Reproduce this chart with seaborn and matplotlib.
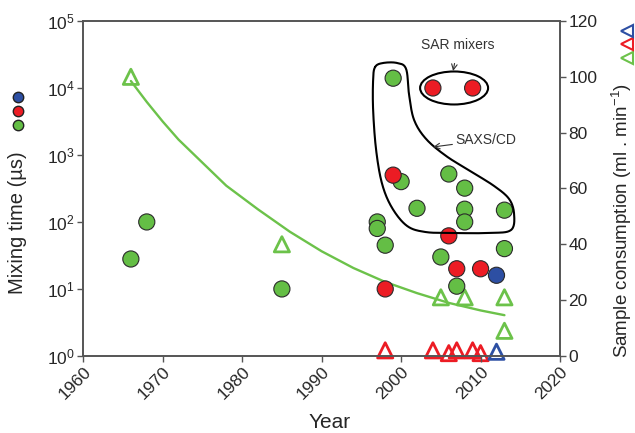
import numpy as np
import pandas as pd
import seaborn as sns
import matplotlib.pyplot as plt
from matplotlib.patches import Ellipse
from matplotlib.lines import Line2D
from matplotlib.ticker import NullLocator

# mixing time (us), circles
green_years = [1966, 1968, 1985, 1997, 1997, 1998, 1999, 2000, 2002, 2005, 2006, 2007, 2008, 2008, 2008, 2013, 2013]
green_time = [28, 100, 10, 100, 80, 45, 14000, 400, 160, 30, 520, 11, 320, 155, 100, 150, 40]
red_years = [1998, 1999, 2004, 2006, 2007, 2009, 2010]
red_time = [10, 500, 10000, 62, 20, 10000, 20]
blue_years = [2012]
blue_time = [16]

# sample consumption (ml/min), triangles
green_tri_years = [1966, 1985, 2005, 2008, 2013, 2013]
green_tri_cons = [100, 40, 21, 21, 21, 9]
red_tri_years = [1998, 2004, 2006, 2007, 2009, 2010]
red_tri_cons = [2, 2, 1, 2, 2, 1]
blue_tri_years = [2012]
blue_tri_cons = [1.5]

# trend curve
fit_years = [1966, 1968, 1970, 1972, 1974, 1976, 1978, 1982, 1986, 1990, 1994, 1998, 2002, 2006, 2010, 2013]
fit_cons = [98.5, 91, 84, 77.5, 72, 66.5, 61, 52.5, 44.5, 37.5, 31.5, 26.5, 22.5, 19, 16.3, 14.6]

GREEN = "#64BE45"
GREEN_LINE = "#6CC24A"
RED = "#EC1C24"
BLUE = "#2D4FA3"
palette = {"green": GREEN, "red": RED, "blue": BLUE}
tri_palette = {"green": GREEN_LINE, "red": RED, "blue": BLUE}

circles = pd.DataFrame({
    "year": green_years + red_years + blue_years,
    "time": green_time + red_time + blue_time,
    "group": ["green"] * len(green_years) + ["red"] * len(red_years) + ["blue"] * len(blue_years),
})
tris = pd.DataFrame({
    "year": green_tri_years + red_tri_years + blue_tri_years,
    "cons": green_tri_cons + red_tri_cons + blue_tri_cons,
    "group": ["green"] * len(green_tri_years) + ["red"] * len(red_tri_years) + ["blue"] * len(blue_tri_years),
})

sns.set_theme(style="ticks")
plt.rcParams["font.family"] = ["Liberation Sans", "DejaVu Sans"]
plt.rcParams["mathtext.fontset"] = "custom"
plt.rcParams["mathtext.rm"] = "Liberation Sans"
plt.rcParams["mathtext.it"] = "Liberation Sans:italic"

fig = plt.figure(figsize=(6.35, 4.33), dpi=100)
ax = fig.add_subplot(111)
fig.subplots_adjust(left=0.131, right=0.882, top=0.9515, bottom=0.178)
ax2 = ax.twinx()
ax.set_zorder(ax2.get_zorder() + 1)
ax.patch.set_visible(False)

# right axis: trend line + open triangles
sns.lineplot(x=fit_years, y=fit_cons, ax=ax2, color=GREEN_LINE, lw=1.7)
sns.scatterplot(data=tris, x="year", y="cons", hue="group", palette=tri_palette,
                marker="^", s=120, linewidth=2, legend=False, ax=ax2, clip_on=False)
coll = ax2.collections[-1]
coll.set_edgecolors(coll.get_facecolors())
coll.set_facecolors("none")

# left axis: circles
sns.scatterplot(data=circles, x="year", y="time", hue="group", palette=palette,
                s=135, edgecolor="#2a2a2a", linewidth=0.8, legend=False, ax=ax)

ax.set_yscale("log")
ax.set_ylim(1, 1e5)
ax.set_yticks([1, 10, 100, 1e3, 1e4, 1e5])
ax.yaxis.set_minor_locator(NullLocator())
ax.set_xlim(1960, 2020)
ax.set_xticks(range(1960, 2021, 10))
ax2.set_ylim(0, 120)
ax2.set_yticks(range(0, 121, 20))
ax.set_xlabel("")
ax.set_ylabel("")
ax2.set_ylabel("")

for a in (ax, ax2):
    for sp in a.spines.values():
        sp.set_visible(True)
        sp.set_color("#555555")
        sp.set_linewidth(1.2)
    a.tick_params(direction="out", length=4, width=1, color="#555555", labelsize=12.5, pad=2)
for lab in ax.get_xticklabels():
    lab.set_rotation(45)
    lab.set_ha("right")
    lab.set_rotation_mode("anchor")

# annotations, positions in reference pixels -> axes fraction
def px(x, y):
    return ((x - 83) / 477.0, (356 - y) / 335.0)

outline = [(375, 67), (383, 63), (397, 63), (406, 69), (409, 95), (414, 120), (426, 139),
           (446, 156), (470, 171), (494, 186), (509, 199), (514, 214), (511, 230), (490, 233),
           (450, 233), (425, 232), (407, 226), (392, 208), (382, 184), (376, 150), (373, 110),
           (373, 80)]
P = np.array([px(*p) for p in outline])
n = len(P)
t = np.linspace(0, 1, 16, endpoint=False)[:, None]
seg = []
for i in range(n):
    p0, p1, p2, p3 = P[i - 1], P[i], P[(i + 1) % n], P[(i + 2) % n]
    seg.append(0.5 * (2 * p1 + (-p0 + p2) * t + (2 * p0 - 5 * p1 + 4 * p2 - p3) * t ** 2
                      + (-p0 + 3 * p1 - 3 * p2 + p3) * t ** 3))
curve = np.vstack(seg + [seg[0][:1]])
ax.plot(curve[:, 0], curve[:, 1], color="black", lw=1.5, transform=ax.transAxes, zorder=1)

ex, ey = px(454, 88)
ax.add_patch(Ellipse((ex, ey), 68 / 477.0, 33 / 335.0, transform=ax.transAxes,
                     fill=False, ec="black", lw=1.5, zorder=1))

ax.annotate("SAR mixers", xy=px(453, 71), xytext=px(458, 45), xycoords="axes fraction",
            textcoords="axes fraction", ha="center", va="center", fontsize=10, color="#333333",
            arrowprops=dict(arrowstyle="->", color="#333333", lw=0.8, shrinkA=6, shrinkB=0))
ax.annotate("SAXS/CD", xy=px(433, 147), xytext=px(486, 140), xycoords="axes fraction",
            textcoords="axes fraction", ha="center", va="center", fontsize=10, color="#333333",
            arrowprops=dict(arrowstyle="->", color="#333333", lw=0.8, shrinkA=24, shrinkB=0))

# axis titles with colored symbols
W, H = 635.0, 433.0
fig.text(330 / W, 1 - 422 / H, "Year", ha="center", va="center", fontsize=15)
fig.text(18 / W, 1 - 294 / H, "Mixing time (µs)", rotation=90, ha="center", va="bottom", fontsize=14.5)
for yy, c in zip([125, 111, 97], [GREEN, RED, BLUE]):
    fig.add_artist(Line2D([18 / W], [1 - yy / H], marker="o", ms=7.5, mfc=c, mec="#222222",
                          mew=1, transform=fig.transFigure))
fig.text(622 / W, 1 - 358 / H, "Sample consumption (ml . min$^{-1}$)", rotation=90,
         ha="center", va="bottom", fontsize=13.5)
for yy, c in zip([58, 44, 31], [GREEN_LINE, RED, BLUE]):
    fig.add_artist(Line2D([627 / W], [1 - yy / H], marker="<", ms=8, mfc="none", mec=c,
                          mew=1.5, transform=fig.transFigure))

fig.savefig("out.png", dpi=100)
